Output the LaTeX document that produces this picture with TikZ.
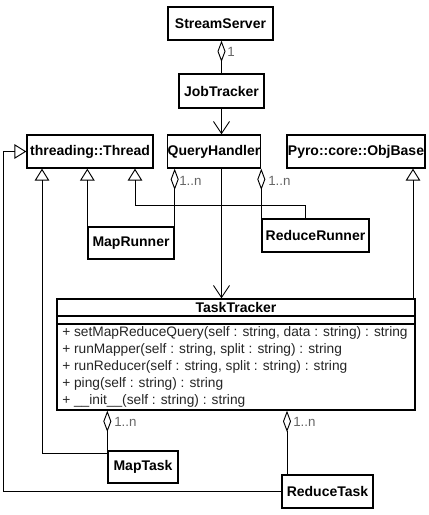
\documentclass[tikz,border=0pt]{standalone}
\usepackage{fontspec}
\setmainfont{Liberation Sans}
\usetikzlibrary{arrows.meta}
\begin{document}
\begin{tikzpicture}[x=0.75pt,y=-0.75pt,
  box/.style={draw=black,line width=1pt,inner sep=0pt,font=\bfseries\fontsize{10.5}{12}\selectfont},
  conn/.style={draw=black,line width=0.7pt},
  agg/.style={conn,{Diamond[open,length=16pt,width=6pt,line width=0.7pt]}-},
  inh/.style={conn,-{Triangle[open,length=9pt,width=11pt,line width=0.7pt]}},
  nav/.style={conn,-{Straight Barb[length=9pt,width=12pt,line width=0.7pt]}},
  mult/.style={anchor=west,inner sep=0pt,text=black!60,font=\fontsize{10}{12}\selectfont},
  meth/.style={anchor=west,inner sep=0pt,text=black!85,font=\fontsize{10.3}{12}\selectfont},
]
\useasboundingbox[fill=white] (0,0) rectangle (429,515);
% classes
\node[box,minimum width=78.75pt,minimum height=24.75pt] (ss) at (220.5,23.5) {StreamServer};
\node[box,minimum width=63.75pt,minimum height=25.5pt] (jt) at (221.5,91) {JobTracker};
\node[box,minimum width=94.5pt,minimum height=24.75pt] (th) at (90,151.5) {threading::Thread};
\node[box,minimum width=69pt,minimum height=24.75pt] (qh) at (214,151.5) {QueryHandler};
\node[box,minimum width=103.5pt,minimum height=24.75pt] (py) at (356,151.5) {Pyro::core::ObjBase};
\node[box,minimum width=64.5pt,minimum height=24pt] (mr) at (131,243) {MapRunner};
\node[box,minimum width=80.25pt,minimum height=24.75pt] (rr) at (315.5,235.5) {ReduceRunner};
\node[box,minimum width=268.5pt,minimum height=83.25pt] (tt) at (236,354.5) {};
\node[box,minimum width=52.5pt,minimum height=24pt] (mt) at (143,467) {MapTask};
\node[box,minimum width=68.25pt,minimum height=24.75pt] (rt) at (327.5,491.5) {ReduceTask};
% TaskTracker compartments
\node[font=\bfseries\fontsize{10.5}{12}\selectfont,inner sep=0pt] (ttname) at (236,307.5) {TaskTracker};
\draw[line width=1pt] (tt.west |- 0,316) coordinate (c1) -- (tt.east |- c1);
\draw[line width=1pt] (tt.west |- 0,324) coordinate (c2) -- (tt.east |- c2);
\node[meth] (m1) at (62,332.5) {+ setMapReduceQuery(self : string, data : string) : string};
\node[meth] (m2) at (62,349.5) {+ runMapper(self : string, split : string) : string};
\node[meth] (m3) at (62,366.5) {+ runReducer(self : string, split : string) : string};
\node[meth] (m4) at (62,383.5) {+ ping(self : string) : string};
\node[meth] (m5) at (62,400.5) {+ \_\_init\_\_(self : string) : string};
% connectors
\draw[agg] (ss.south -| jt.north) -- (jt.north);
\node[mult] (l0) at (227,52) {1};
\draw[nav] (jt.south) -- (jt.south |- qh.north);
\draw[nav] (jt.south |- qh.south) -- (jt.south |- tt.north);
\draw[agg] (mr.north east |- qh.south) -- (mr.north east);
\node[mult] (l1) at (179,181) {1..n};
\draw[agg] (rr.north west |- qh.south) -- (rr.north west);
\node[mult] (l2) at (268,181) {1..n};
\draw[inh] (mr.north west) -- (mr.north west |- th.south);
\draw[inh] (rr.north -| 305,0) -- (305,205) -| (135,0 |- th.south);
\draw[inh] ([yshift=-2.25pt]mt.north west) -| (42,0 |- th.south);
\draw[inh] (rt.west) -| (3,0 |- th.west) -- (th.west);
\draw[inh] (413,0 |- tt.north) -- (413,0 |- py.south);
\draw[agg] (mt.north west |- tt.south) -- (mt.north west);
\node[mult] (l3) at (114,422) {1..n};
\draw[agg] (287,0 |- tt.south) -- (287,0 |- rt.north);
\node[mult] (l4) at (293,422) {1..n};
\end{tikzpicture}
\end{document}
